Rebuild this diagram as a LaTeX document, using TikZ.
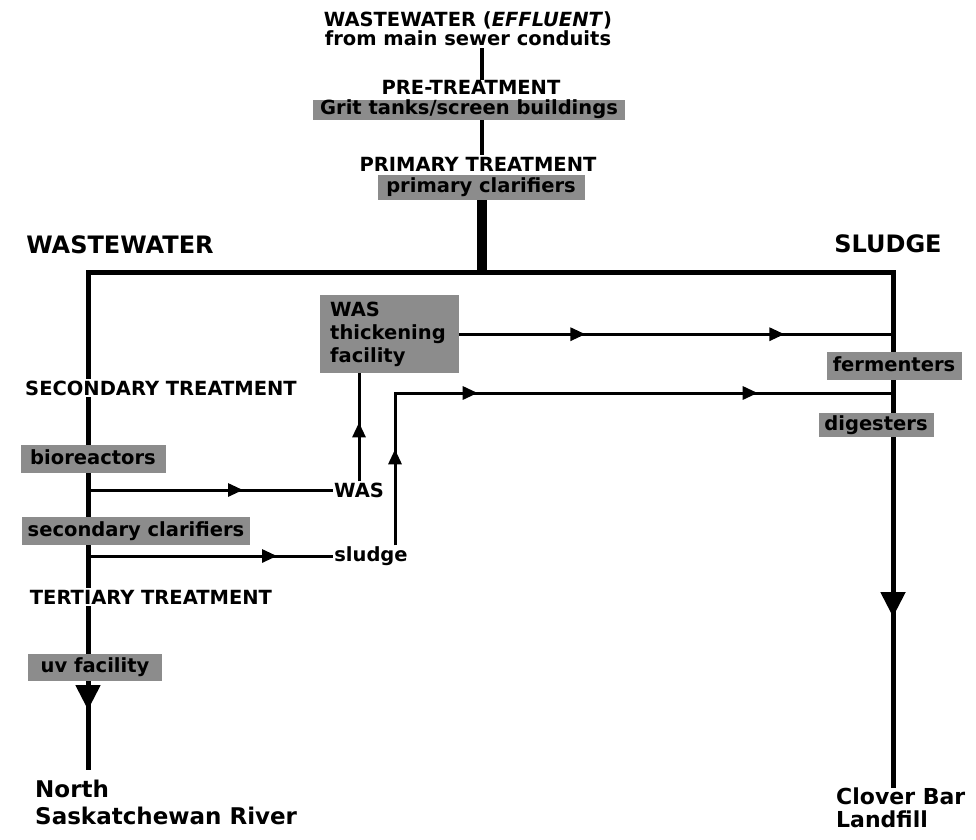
\documentclass[tikz,border=0pt]{standalone}
\usepackage{fontspec}
\setmainfont{DejaVu Sans}
\usetikzlibrary{arrows.meta,decorations.markings,backgrounds}
\begin{document}
\begin{tikzpicture}[x=1pt,y=-1pt,
  lab/.style={font=\bfseries\fontsize{19.5}{20}\selectfont, fill=white, inner xsep=3pt, inner ysep=1.5pt},
  head/.style={font=\bfseries\fontsize{24}{27}\selectfont, inner sep=2pt},
  gfill/.style={font=\bfseries\fontsize{19.5}{23}\selectfont, fill=black!45},
  gbox/.style={gfill, inner sep=0pt, text height=14pt, text depth=4pt},
  trunk/.style={line width=5pt, line join=miter},
  conn/.style={line width=4pt},
  side/.style={line width=3pt, line join=miter},
  tipS/.style={postaction={decorate}, decoration={markings,
     mark=at position #1 with {\arrow{Triangle[length=15pt,width=13pt]}}}},
  tipSS/.style n args={2}{postaction={decorate}, decoration={markings,
     mark=at position #1 with {\arrow{Triangle[length=15pt,width=13pt]}},
     mark=at position #2 with {\arrow{Triangle[length=15pt,width=13pt]}}}},
  tipSSS/.style n args={3}{postaction={decorate}, decoration={markings,
     mark=at position #1 with {\arrow{Triangle[length=15pt,width=13pt]}},
     mark=at position #2 with {\arrow{Triangle[length=15pt,width=13pt]}},
     mark=at position #3 with {\arrow{Triangle[length=15pt,width=13pt]}}}},
  tipL/.style={postaction={decorate}, decoration={markings,
     mark=at position #1 with {\arrow{Triangle[length=25pt,width=24pt]}}}}
]
\useasboundingbox (0,0) rectangle (976,839);

% nodes
\node[lab, align=center, font=\bfseries\fontsize{19.5}{19}\selectfont] (src) at (468,29)
  {WASTEWATER (\textit{EFFLUENT})\\from main sewer conduits};
\node[lab, inner ysep=0.5pt] (pre) at (471,87.5) {PRE-TREATMENT};
\node[gbox, minimum width=312, minimum height=20] (grit) at (469,109.5) {Grit tanks/screen buildings};
\node[lab] (prim) at (478,164) {PRIMARY TREATMENT};
\node[gbox, minimum width=207, minimum height=25] (pclar) at (481,187.5) {primary clarifiers};

\coordinate (jc) at (482,272);
\coordinate (jl) at (88,272);
\coordinate (jr) at (893,272);
\coordinate (lb) at (88,770);
\coordinate (rb) at (893,788);
\coordinate (sc) at (395,393);

\node[head] (ww) at (120,245) {WASTEWATER};
\node[head] (sl) at (888,244) {SLUDGE};

\node[lab] (sec) at (161,388) {SECONDARY TREATMENT};
\node[gbox, minimum width=145, minimum height=28] (bio) at (93,459) {bioreactors};
\node[gbox, minimum width=228, minimum height=28] (scl) at (136,531) {secondary clarifiers};
\node[lab] (ter) at (151,597) {TERTIARY TREATMENT};
\node[gbox, minimum width=134, minimum height=27] (uv) at (95,667) {uv facility};
\node[head, anchor=north west, align=left, font=\bfseries\fontsize{23}{27}\selectfont] (river) at (33,778) {North\\Saskatchewan River};

\node[lab, inner sep=1pt] (was) at (359,490) {WAS};
\node[lab, inner sep=1pt] (sludge) at (371,556) {sludge};
\node[gfill, anchor=north west, minimum width=137, minimum height=78, text width=119,
      inner xsep=10pt, inner ysep=3pt, align=left] (wtf) at (320,295) {WAS\\thickening\\facility};

\node[gbox, minimum width=135, minimum height=28] (ferm) at (894,366) {fermenters};
\node[gbox, minimum width=115, minimum height=24] (dig) at (876,425) {digesters};
\node[head, anchor=north west, align=left, font=\bfseries\fontsize{22}{23}\selectfont] (clover) at (834,786) {Clover Bar\\Landfill};

% connectors
\begin{pgfonlayer}{background}
\draw[conn] (src.south -| jc) -- (pre.north -| jc);
\draw[conn] (grit.south -| jc) -- (prim.north -| jc);
\draw[line width=10pt] (pclar.south -| jc) -- (jc);
\draw[trunk, tipL=832pt] (jc) -- (jl) -- (lb);
\draw[trunk, tipL=756pt] (jc) -- (jr) -- (rb);
\draw[side, tipS=155pt] (was.west -| jl) -- (was.west);
\draw[side, tipS=189pt] (sludge.west -| jl) -- (sludge.west);
\draw[side, tipS=59pt] (was.north) -- (wtf.south -| was.north);
\draw[side, tipSSS={96pt}{235pt}{515pt}] (sludge.north -| sc) -- (sc) -- (sc -| jr);
\draw[side, tipSS={126pt}{325pt}] (wtf.east) -- (wtf.east -| jr);
\end{pgfonlayer}
\end{tikzpicture}
\end{document}
